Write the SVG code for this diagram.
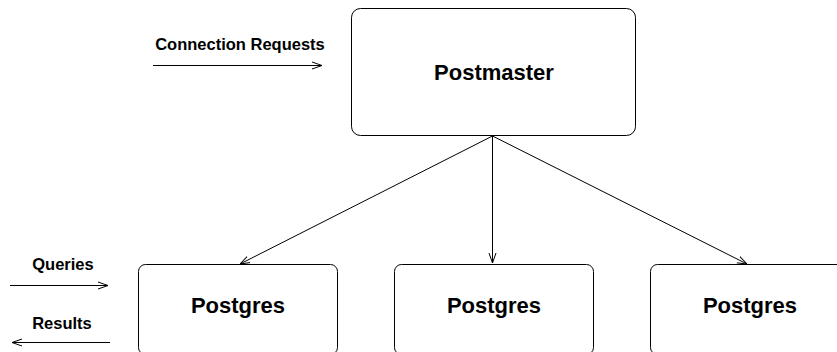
<svg xmlns="http://www.w3.org/2000/svg" width="837" height="352" viewBox="0 0 837 352">
<defs>
<marker id="ah" viewBox="0 0 10 10" refX="10" refY="5" markerWidth="10" markerHeight="10" markerUnits="userSpaceOnUse" orient="auto">
<path d="M0,1.5 L10,5 L0,8.5" fill="none" stroke="#000" stroke-width="1"/>
</marker>
<style>
.box{fill:#fff;stroke:#000;stroke-width:1}
.big{font-family:"Liberation Sans",Arial,sans-serif;font-weight:bold;font-size:22px;text-anchor:middle}
.sm{font-family:"Liberation Sans",Arial,sans-serif;font-weight:bold;font-size:16.5px;text-anchor:middle}
.ln{stroke:#000;stroke-width:1;fill:none;marker-end:url(#ah)}
</style>
</defs>
<g id="postmaster">
<rect class="box" x="351.5" y="8.5" width="284" height="127" rx="9"/>
<text class="big" x="494" y="80">Postmaster</text>
</g>
<g id="postgres1">
<rect class="box" x="138.5" y="264.5" width="199" height="90" rx="7"/>
<text class="big" x="238" y="313">Postgres</text>
</g>
<g id="postgres2">
<rect class="box" x="394.5" y="264.5" width="199" height="90" rx="7"/>
<text class="big" x="494" y="313">Postgres</text>
</g>
<g id="postgres3">
<rect class="box" x="650.5" y="264.5" width="199" height="90" rx="7"/>
<text class="big" x="750" y="313">Postgres</text>
</g>
<g id="labels">
<text class="sm" x="240" y="50">Connection Requests</text>
<text class="sm" x="63" y="270">Queries</text>
<text class="sm" x="62" y="329">Results</text>
</g>
<g id="connectors">
<line class="ln" x1="153" y1="65.5" x2="322" y2="65.5"/>
<line class="ln" x1="10" y1="285.5" x2="108" y2="285.5"/>
<line class="ln" x1="110" y1="342.5" x2="12" y2="342.5"/>
<line class="ln" x1="492.5" y1="136" x2="240" y2="264"/>
<line class="ln" x1="492.5" y1="136" x2="492.5" y2="263"/>
<line class="ln" x1="492.5" y1="136" x2="747" y2="264"/>
</g>
</svg>
